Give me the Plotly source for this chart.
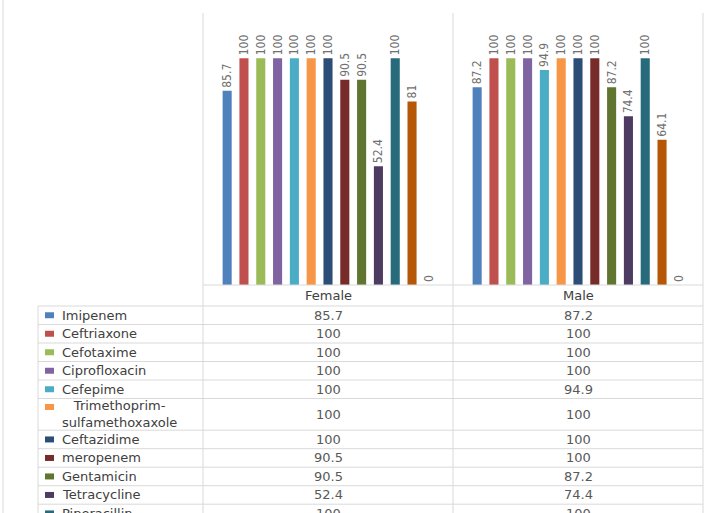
import plotly.graph_objects as go

W, H = 724, 513

groups = ["Female", "Male"]
drugs = ["Imipenem", "Ceftriaxone", "Cefotaxime", "Ciprofloxacin", "Cefepime",
         "Trimethoprim-<br>sulfamethoxaxole", "Ceftazidime", "meropenem",
         "Gentamicin", "Tetracycline", "Piperacillin", "Series 12", "Series 13"]
female = [85.7, 100, 100, 100, 100, 100, 100, 90.5, 90.5, 52.4, 100, 81, 0]
male = [87.2, 100, 100, 100, 94.9, 100, 100, 100, 87.2, 74.4, 100, 64.1, 0]
colors = ["#4F81BD", "#C0504D", "#9BBB59", "#8064A2", "#4BACC6", "#F79646",
          "#2C4D75", "#772C2A", "#5F7530", "#4D3B62", "#276A7C", "#B65708", "#95B3D7"]


def X(px):
    return px / W


def Y(py):
    return 1 - py / H


fig = go.Figure()
for i, name in enumerate(drugs):
    vals = [female[i], male[i]]
    fig.add_trace(go.Bar(
        x=groups, y=vals, name=name.replace("<br>", ""),
        marker=dict(color=colors[i], line=dict(width=0)),
        text=[f"{v:g}" for v in vals], textposition="outside", textangle=-90,
        textfont=dict(family="DejaVu Sans Condensed, Liberation Sans Narrow, sans-serif",
                      size=12, color="#707070"),
        cliponaxis=False, constraintext="none", showlegend=False,
        hoverinfo="skip",
    ))

# layout geometry (pixels)
plot_left, plot_right = 203, 703
plot_top, baseline = 13, 285
col_mid = [(203 + 453) / 2, (453 + 703) / 2]
tbl_left = 38
header_bottom = 306
row_h, row_h2 = 18.5, 31.7

line_col = "#D9D9D9"
shapes = []


def hline(y, x0, x1):
    shapes.append(dict(type="line", xref="paper", yref="paper", x0=X(x0), x1=X(x1),
                       y0=Y(y), y1=Y(y), line=dict(color=line_col, width=1)))


def vline(x, y0, y1):
    shapes.append(dict(type="line", xref="paper", yref="paper", x0=X(x), x1=X(x),
                       y0=Y(y0), y1=Y(y1), line=dict(color=line_col, width=1)))


# outer frame left edge
vline(3, 0, H + 40)
# column lines (through plot area and table)
for xv in (203, 453, 703):
    vline(xv, plot_top, H + 40)
vline(tbl_left, header_bottom, H + 40)
hline(baseline, plot_left, plot_right)

annotations = []
text_font = dict(family="DejaVu Sans, Verdana, sans-serif", size=13, color="#404040")
val_font = dict(family="DejaVu Sans, Verdana, sans-serif", size=13, color="#595959")

for g, xm in zip(groups, col_mid):
    annotations.append(dict(xref="paper", yref="paper", x=X(xm), y=Y(295.5), text=g,
                            showarrow=False, xanchor="center", yanchor="middle",
                            font=text_font))

top = header_bottom
for i, name in enumerate(drugs):
    h = row_h2 if "<br>" in name else row_h
    hline(top, tbl_left, plot_right)
    yc = top + h / 2
    key_y = top + 8.5 if "<br>" in name else yc
    shapes.append(dict(type="rect", xref="paper", yref="paper",
                       x0=X(45), x1=X(54), y0=Y(key_y - 3), y1=Y(key_y + 3),
                       fillcolor=colors[i], line=dict(width=0)))
    annotations.append(dict(xref="paper", yref="paper", x=X(60), y=Y(yc), text=name,
                            showarrow=False, xanchor="left", yanchor="middle",
                            align="center", font=text_font))
    for vals, xm in zip((female, male), col_mid):
        annotations.append(dict(xref="paper", yref="paper", x=X(xm), y=Y(yc),
                                text=f"{vals[i]:g}", showarrow=False,
                                xanchor="center", yanchor="middle", font=val_font))
    top += h

fig.update_layout(
    width=W, height=H,
    margin=dict(l=0, r=0, t=0, b=0),
    paper_bgcolor="white", plot_bgcolor="white",
    barmode="group", bargap=0.126, bargroupgap=0.46,
    xaxis=dict(domain=[X(plot_left), X(plot_right)], showticklabels=False,
               showgrid=False, zeroline=False, showline=False, ticks=""),
    yaxis=dict(domain=[Y(baseline), Y(plot_top)], range=[0, 120], visible=False),
    shapes=shapes, annotations=annotations,
)

fig.write_html("out.html", post_script="document.body.style.margin='0';",
               config={"displayModeBar": False})
